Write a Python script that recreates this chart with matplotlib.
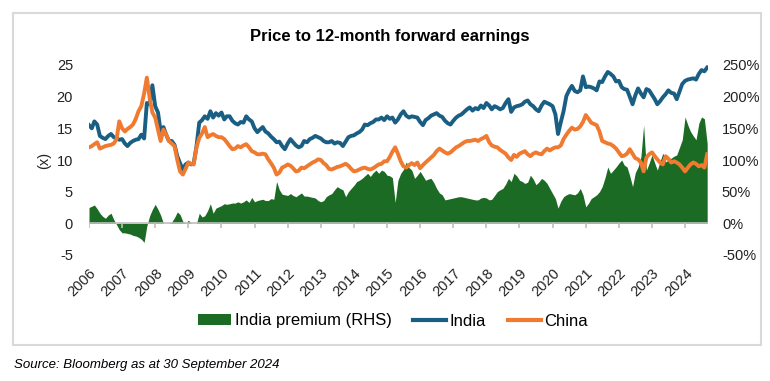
import pandas as pd
import matplotlib
matplotlib.use('Agg')
import matplotlib.pyplot as plt
from matplotlib.patches import Rectangle
from matplotlib.lines import Line2D

plt.rcParams['font.family'] = ['Liberation Sans', 'DejaVu Sans']

# monthly readings, Jan 2006 - Sep 2024
months = pd.date_range('2006-01-01', '2024-09-01', freq='MS')

india = [
    15.5, 15.0, 16.1, 15.6, 13.8, 13.5, 13.3, 13.8, 14.1, 13.6, 13.4, 13.2,  # 2006
    13.3, 12.6, 12.2, 12.7, 13.0, 13.2, 13.3, 14.0, 13.4, 19.0, 18.8, 21.8,  # 2007
    18.5, 17.5, 14.5, 15.2, 14.0, 13.0, 13.0, 12.4, 10.6, 9.5, 8.5, 9.3,     # 2008
    9.6, 9.3, 9.5, 12.2, 15.9, 16.3, 16.9, 16.5, 17.7, 16.7, 17.4, 17.0,     # 2009
    17.5, 16.4, 16.9, 16.9, 16.2, 15.8, 15.6, 16.0, 15.9, 16.9, 16.4, 16.1,  # 2010
    15.0, 14.4, 14.8, 15.2, 14.5, 14.2, 13.7, 13.3, 12.8, 12.9, 12.2, 11.7,  # 2011
    12.6, 13.3, 12.8, 12.3, 12.0, 12.2, 13.0, 12.8, 13.3, 13.5, 13.8, 13.6,  # 2012
    13.4, 13.0, 12.8, 12.8, 13.0, 12.6, 12.8, 12.7, 12.2, 12.9, 13.6, 13.8,  # 2013
    13.9, 14.2, 14.4, 14.8, 15.6, 15.5, 15.8, 16.0, 16.4, 16.4, 16.7, 16.3,  # 2014
    16.9, 16.5, 16.7, 15.9, 16.4, 17.2, 17.7, 17.0, 16.7, 16.9, 16.8, 16.7,  # 2015
    16.0, 15.5, 16.3, 16.6, 17.0, 17.2, 17.4, 17.0, 16.8, 16.2, 15.8, 15.6,  # 2016
    16.2, 16.7, 17.0, 17.2, 17.6, 18.0, 18.3, 17.8, 18.2, 18.0, 18.6, 18.2,  # 2017
    19.0, 18.6, 18.0, 18.5, 18.3, 18.0, 18.2, 19.0, 19.6, 17.6, 18.3, 18.5,  # 2018
    18.6, 18.8, 19.2, 19.4, 18.8, 18.5, 18.0, 17.7, 18.6, 19.2, 19.0, 18.8,  # 2019
    18.5, 17.2, 14.1, 16.0, 17.7, 20.1, 21.0, 21.7, 20.9, 20.7, 21.0, 23.2,  # 2020
    21.5, 21.6, 21.5, 21.3, 21.0, 22.4, 22.3, 23.2, 23.9, 23.6, 23.2, 22.4,  # 2021
    22.5, 21.5, 21.2, 21.1, 20.0, 18.8, 20.2, 21.3, 20.5, 19.9, 21.2, 21.0,  # 2022
    20.3, 19.6, 18.8, 19.3, 19.9, 20.4, 21.0, 20.6, 20.5, 19.6, 20.8, 22.0,  # 2023
    22.5, 22.7, 22.8, 22.9, 22.7, 23.6, 24.2, 24.0, 24.6,                    # 2024
]

china = [
    12.0, 12.2, 12.5, 12.8, 11.8, 12.0, 12.2, 12.3, 12.4, 12.6, 13.3, 16.1,  # 2006
    15.0, 14.5, 14.9, 15.2, 15.6, 16.5, 17.7, 18.5, 20.5, 23.0, 19.8, 17.5,  # 2007
    16.7, 14.8, 13.0, 14.8, 14.0, 13.0, 12.6, 12.2, 10.0, 8.2, 7.7, 8.6,     # 2008
    9.6, 9.4, 9.3, 12.0, 13.5, 14.2, 15.2, 13.6, 13.9, 14.1, 13.8, 13.6,     # 2009
    13.6, 13.3, 12.8, 12.2, 11.7, 11.8, 12.2, 12.0, 12.3, 12.5, 12.0, 11.4,  # 2010
    11.2, 10.9, 10.9, 11.0, 10.9, 10.1, 9.5, 8.8, 7.7, 8.0, 8.8, 9.0,        # 2011
    9.3, 9.1, 8.7, 8.2, 8.3, 8.8, 8.7, 9.0, 9.3, 9.6, 9.8, 10.1,             # 2012
    10.0, 9.5, 9.2, 8.6, 8.5, 8.7, 8.9, 9.0, 9.2, 9.4, 9.1, 8.6,             # 2013
    8.2, 8.3, 8.5, 8.7, 8.8, 8.6, 8.5, 8.7, 9.0, 9.3, 9.4, 9.8,              # 2014
    9.8, 10.5, 11.3, 12.0, 11.0, 9.8, 9.0, 8.8, 9.2, 9.5, 9.2, 9.6,          # 2015
    8.7, 9.2, 9.6, 10.0, 10.4, 10.8, 11.4, 11.8, 11.5, 11.2, 11.0, 11.2,     # 2016
    11.6, 12.0, 12.2, 12.5, 12.8, 13.0, 13.0, 13.1, 13.2, 13.0, 13.3, 13.5,  # 2017
    13.8, 12.8, 12.3, 12.1, 12.0, 11.6, 11.3, 11.0, 10.4, 10.0, 10.8, 10.5,  # 2018
    11.0, 11.2, 11.4, 10.9, 10.6, 11.0, 11.2, 11.0, 10.9, 11.4, 11.8, 11.5,  # 2019
    11.8, 12.0, 12.0, 12.3, 13.3, 14.0, 14.6, 15.1, 14.8, 14.9, 15.3, 16.0,  # 2020
    17.1, 16.5, 15.9, 15.7, 15.5, 14.5, 13.0, 12.8, 12.6, 12.5, 12.2, 11.8,  # 2021
    11.2, 10.6, 10.7, 11.0, 11.7, 11.0, 10.3, 10.1, 9.6, 8.2, 10.4, 10.9,    # 2022
    11.2, 10.6, 10.1, 9.6, 9.3, 10.6, 10.2, 9.6, 9.8, 9.6, 9.3, 8.8,         # 2023
    8.2, 8.8, 9.3, 9.6, 9.4, 9.0, 9.2, 8.8, 10.9,                            # 2024
]

# India premium over China, %
premium = [
    25, 27, 29, 23, 16, 11, 8, 13, 16, 6, -2, -10,          # 2006
    -15, -15, -16, -17, -19, -20, -22, -25, -30, -4, 12, 22,  # 2007
    30, 22, 13, 0, 0, 0, 2, 9, 18, 14, 3, 0,                # 2008
    5, 0, 0, 0, 16, 10, 12, 20, 31, 16, 24, 26,             # 2009
    28, 31, 30, 31, 32, 32, 34, 32, 34, 37, 33, 41,         # 2010
    34, 36, 37, 38, 36, 36, 39, 38, 66, 53, 46, 45,         # 2011
    44, 47, 44, 42, 45, 48, 43, 43, 42, 41, 40, 36,         # 2012
    34, 36, 42, 45, 47, 53, 58, 55, 53, 42, 50, 55,         # 2013
    60, 66, 68, 71, 75, 79, 74, 80, 84, 79, 84, 82,         # 2014
    76, 75, 72, 33, 68, 79, 85, 97, 88, 84, 71, 76,         # 2015
    82, 75, 68, 70, 71, 64, 55, 48, 45, 37, 38, 39,         # 2016
    40, 41, 42, 42, 41, 40, 39, 38, 37, 37, 40, 41,         # 2017
    40, 37, 38, 44, 50, 53, 55, 62, 71, 66, 79, 75,         # 2018
    68, 66, 63, 65, 76, 70, 61, 65, 71, 68, 63, 55,         # 2019
    47, 39, 24, 35, 42, 45, 47, 46, 45, 48, 55, 45,         # 2020
    26, 32, 39, 42, 45, 50, 58, 72, 89, 79, 84, 89,         # 2021
    95, 100, 92, 89, 75, 58, 80, 89, 105, 155, 84, 95,      # 2022
    108, 95, 84, 98, 111, 97, 100, 103, 106, 108, 120, 132,  # 2023
    168, 155, 145, 138, 132, 158, 168, 165, 126,            # 2024
]

years = list(range(2006, 2025))
left_ticks = [-5, 0, 5, 10, 15, 20, 25]
right_ticks = [-50, 0, 50, 100, 150, 200, 250]

blue = '#1a5f83'
orange = '#f07a30'
green = '#1c6b24'
grey = '#bfbfbf'

W, H = 770, 381
fig = plt.figure(figsize=(W / 100, H / 100), dpi=100)
ax = fig.add_axes([89 / W, 1 - 255 / H, (708 - 89) / W, (255 - 65) / H])
ax2 = ax.twinx()

# premium area sits on the RHS axis, behind the lines
ax2.fill_between(months, 0, premium, color=green, lw=0)
ax.set_zorder(ax2.get_zorder() + 1)
ax.patch.set_visible(False)

year_dates = pd.to_datetime([f'{y}-01-01' for y in years])
ax.axhline(0, color=grey, lw=1.2, zorder=1)
ax.vlines(year_dates, -0.7, 0, color=grey, lw=1.2, zorder=1)

ax.plot(months, india, color=blue, lw=2.8, zorder=3)
ax.plot(months, china, color=orange, lw=2.8, zorder=3)

ax.set_xlim(pd.Timestamp('2006-01-01'), pd.Timestamp('2024-09-10'))
ax.set_ylim(-5, 25)
ax2.set_ylim(-50, 250)

ax.set_yticks(left_ticks)
ax.set_yticklabels([str(t) for t in left_ticks])
ax2.set_yticks(right_ticks)
ax2.set_yticklabels([f'{t}%' for t in right_ticks])

ax.set_xticks(year_dates)
ax.set_xticklabels([str(y) for y in years], rotation=45, ha='right',
                   rotation_mode='anchor')

ax.tick_params(axis='y', length=0, labelsize=10.5, pad=11.5, colors='#222222')
ax2.tick_params(axis='y', length=0, labelsize=10.5, pad=10, colors='#222222')
ax.tick_params(axis='x', length=0, labelsize=10.5, pad=8, colors='#222222')

for a in (ax, ax2):
    for s in a.spines.values():
        s.set_visible(False)

ax.set_ylabel('(x)', fontsize=10.5, color='#222222')
ax.yaxis.set_label_coords((51 - 89) / (708 - 89), 0.5)

fig.text(390 / W, 1 - 36 / H, 'Price to 12-month forward earnings',
         ha='center', va='center', fontsize=12, fontweight='bold')

handles = [
    Rectangle((0, 0), 1, 1, color=green, lw=0),
    Line2D([], [], color=blue, lw=3),
    Line2D([], [], color=orange, lw=3),
]
fig.legend(handles, ['India premium (RHS)', 'India', 'China'],
           loc='center', bbox_to_anchor=(393 / W, 1 - 321 / H), ncol=3,
           frameon=False, fontsize=12, handlelength=2.0, handleheight=0.6,
           handletextpad=0.2, columnspacing=1.3)

# light frame round the chart
fig.patches.append(Rectangle((13 / W, 1 - 345 / H), (761 - 13) / W, (345 - 13) / H,
                             transform=fig.transFigure, fill=False,
                             edgecolor='#d9d9d9', lw=1.5))

fig.text(14 / W, 1 - 365 / H, 'Source: Bloomberg as at 30 September 2024',
         ha='left', va='center', fontsize=9.5, style='italic')

fig.savefig('out.png', dpi=100)
